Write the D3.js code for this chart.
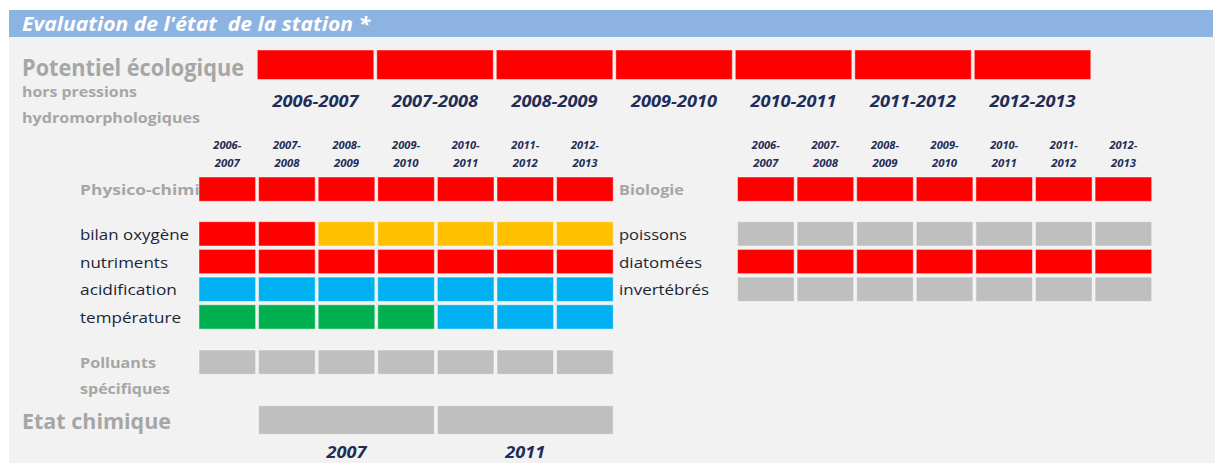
<!DOCTYPE html>
<html>
<head>
<meta charset="utf-8">
<script src="https://cdn.jsdelivr.net/npm/d3@7"></script>
<style>
	body { margin: 0; background: #fff; }
	text { font-family: "Open Sans", "Noto Sans", sans-serif; }
</style>
</head>
<body>
<svg id="chart" width="1215" height="463"></svg>
<script>
// ---- data ----
var years = ["2006-2007", "2007-2008", "2008-2009", "2009-2010", "2010-2011", "2011-2012", "2012-2013"];

// quality classes : R = mauvais, O = moyen, G = bon, B = très bon, X = non évalué
var potentiel     = ["R", "R", "R", "R", "R", "R", "R"];
var physicoChimie = ["R", "R", "R", "R", "R", "R", "R"];
var bilanOxygene  = ["R", "R", "O", "O", "O", "O", "O"];
var nutriments    = ["R", "R", "R", "R", "R", "R", "R"];
var acidification = ["B", "B", "B", "B", "B", "B", "B"];
var temperature   = ["G", "G", "G", "G", "B", "B", "B"];
var polluants     = ["X", "X", "X", "X", "X", "X", "X"];
var biologie      = ["R", "R", "R", "R", "R", "R", "R"];
var poissons      = ["X", "X", "X", "X", "X", "X", "X"];
var diatomees     = ["R", "R", "R", "R", "R", "R", "R"];
var invertebres   = ["X", "X", "X", "X", "X", "X", "X"];

var chimieYears  = ["2007", "2011"];
var etatChimique = ["X", "X"];

var physicoRows = ["bilan oxygène", "nutriments", "acidification", "température"];
var bioRows     = ["poissons", "diatomées", "invertébrés"];

var classColor = { R: "#ff0000", O: "#ffc000", G: "#00b050", B: "#00b0f0", X: "#bfbfbf" };

// ---- layout ----
var GREY_TXT = "#a6a6a6",
	DARK_TXT = "#1c2536",
	NAVY = "#1f2d57";

var ROW_STEP = 27.7,
	ROW_PAD = 0.123;

var svg = d3.select("#chart");

svg.append("rect").attr("x", 9).attr("y", 37).attr("width", 1206).attr("height", 426).attr("fill", "#f2f2f2");
svg.append("rect").attr("x", 9).attr("y", 10).attr("width", 1204).attr("height", 27).attr("fill", "#8db3e2");

function label(txt, x, y, size, opts) {
	opts = opts || {};
	var t = svg.append("text")
		.attr("x", x).attr("y", y)
		.attr("dominant-baseline", "central")
		.attr("font-size", size)
		.attr("font-weight", opts.weight || "normal")
		.attr("font-style", opts.italic ? "italic" : "normal")
		.attr("fill", opts.fill || DARK_TXT)
		.attr("text-anchor", opts.anchor || "start")
		.text(txt);
	if (opts.len) t.attr("textLength", opts.len).attr("lengthAdjust", "spacingAndGlyphs");
	return t;
}

label("Evaluation de l'état\u00a0 de la station *", 22, 24, 19, { weight: "bold", italic: true, fill: "#fff", len: 348 });

// scales
var xBig = d3.scaleBand().domain(years).range([257.3, 1090.8]).paddingInner(0.025);
var xLeft = d3.scaleBand().domain(years).range([199, 613.2]).paddingInner(0.05);
var xRight = d3.scaleBand().domain(years).range([737.5, 1151.7]).paddingInner(0.05);
var xChimie = d3.scaleBand().domain(chimieYears)
	.range([xLeft(years[1]), xLeft(years[6]) + xLeft.bandwidth()]).paddingInner(0.017);

var ySub = d3.scaleBand().domain(physicoRows)
	.range([221.7, 221.7 + ROW_STEP * (physicoRows.length - ROW_PAD)]).paddingInner(ROW_PAD);
var yBio = d3.scaleBand().domain(bioRows)
	.range([221.7, 221.7 + ROW_STEP * (bioRows.length - ROW_PAD)]).paddingInner(ROW_PAD);
var rowH = ySub.bandwidth();

function cells(values, x, dom, y, h) {
	svg.append("g").selectAll("rect").data(values).enter().append("rect")
		.attr("x", function(d, i) { return x(dom[i]); })
		.attr("y", y)
		.attr("width", x.bandwidth())
		.attr("height", h)
		.attr("fill", function(d) { return classColor[d]; })
		.attr("stroke", "rgba(255,255,255,0.45)")
		.attr("stroke-width", 1);
}

// Potentiel écologique
label("Potentiel écologique", 22, 66, 24, { weight: "bold", fill: GREY_TXT, len: 222 });
label("hors pressions", 22, 91, 15, { weight: "bold", fill: GREY_TXT, len: 115 });
label("hydromorphologiques", 22, 117, 15, { weight: "bold", fill: GREY_TXT, len: 178 });
cells(potentiel, xBig, years, 50, 29.5);
years.forEach(function(y) {
	label(y, xBig(y) + xBig.bandwidth() / 2, 100, 16.5, { weight: "bold", italic: true, fill: NAVY, anchor: "middle", len: 86 });
});

// small column headers
function colHeads(x) {
	years.forEach(function(y) {
		var p = y.split("-");
		var cx = x(y) + x.bandwidth() / 2;
		label(p[0] + "-", cx, 145, 10, { weight: "bold", italic: true, fill: NAVY, anchor: "middle", len: 28 });
		label(p[1], cx, 163, 10, { weight: "bold", italic: true, fill: NAVY, anchor: "middle", len: 25 });
	});
}
colHeads(xLeft);
colHeads(xRight);

// physico-chimie block
label("Physico-chimie", 80, 189, 15, { weight: "bold", fill: GREY_TXT, len: 130 });
cells(physicoChimie, xLeft, years, 177, rowH);

var physicoData = [bilanOxygene, nutriments, acidification, temperature];
physicoRows.forEach(function(r, i) {
	label(r, 80, ySub(r) + rowH / 2, 15, { len: [109, 88, 97, 101][i] });
	cells(physicoData[i], xLeft, years, ySub(r), rowH);
});

label("Polluants", 80, 362, 15, { weight: "bold", fill: GREY_TXT, len: 76 });
label("spécifiques", 80, 388, 15, { weight: "bold", fill: GREY_TXT, len: 90 });
cells(polluants, xLeft, years, 350, rowH);

// état chimique
label("Etat chimique", 22, 421, 21, { weight: "bold", fill: GREY_TXT, len: 149 });
cells(etatChimique, xChimie, chimieYears, 405.7, 28.6);
chimieYears.forEach(function(y) {
	label(y, xChimie(y) + xChimie.bandwidth() / 2, 452, 16, { weight: "bold", italic: true, fill: NAVY, anchor: "middle", len: 40 });
});

// biologie block
label("Biologie", 619, 189, 15, { weight: "bold", fill: GREY_TXT, len: 65 });
cells(biologie, xRight, years, 177, rowH);

var bioData = [poissons, diatomees, invertebres];
bioRows.forEach(function(r, i) {
	label(r, 619, yBio(r) + rowH / 2, 15, { len: [68, 83, 90][i] });
	cells(bioData[i], xRight, years, yBio(r), rowH);
});
</script>
</body>
</html>
